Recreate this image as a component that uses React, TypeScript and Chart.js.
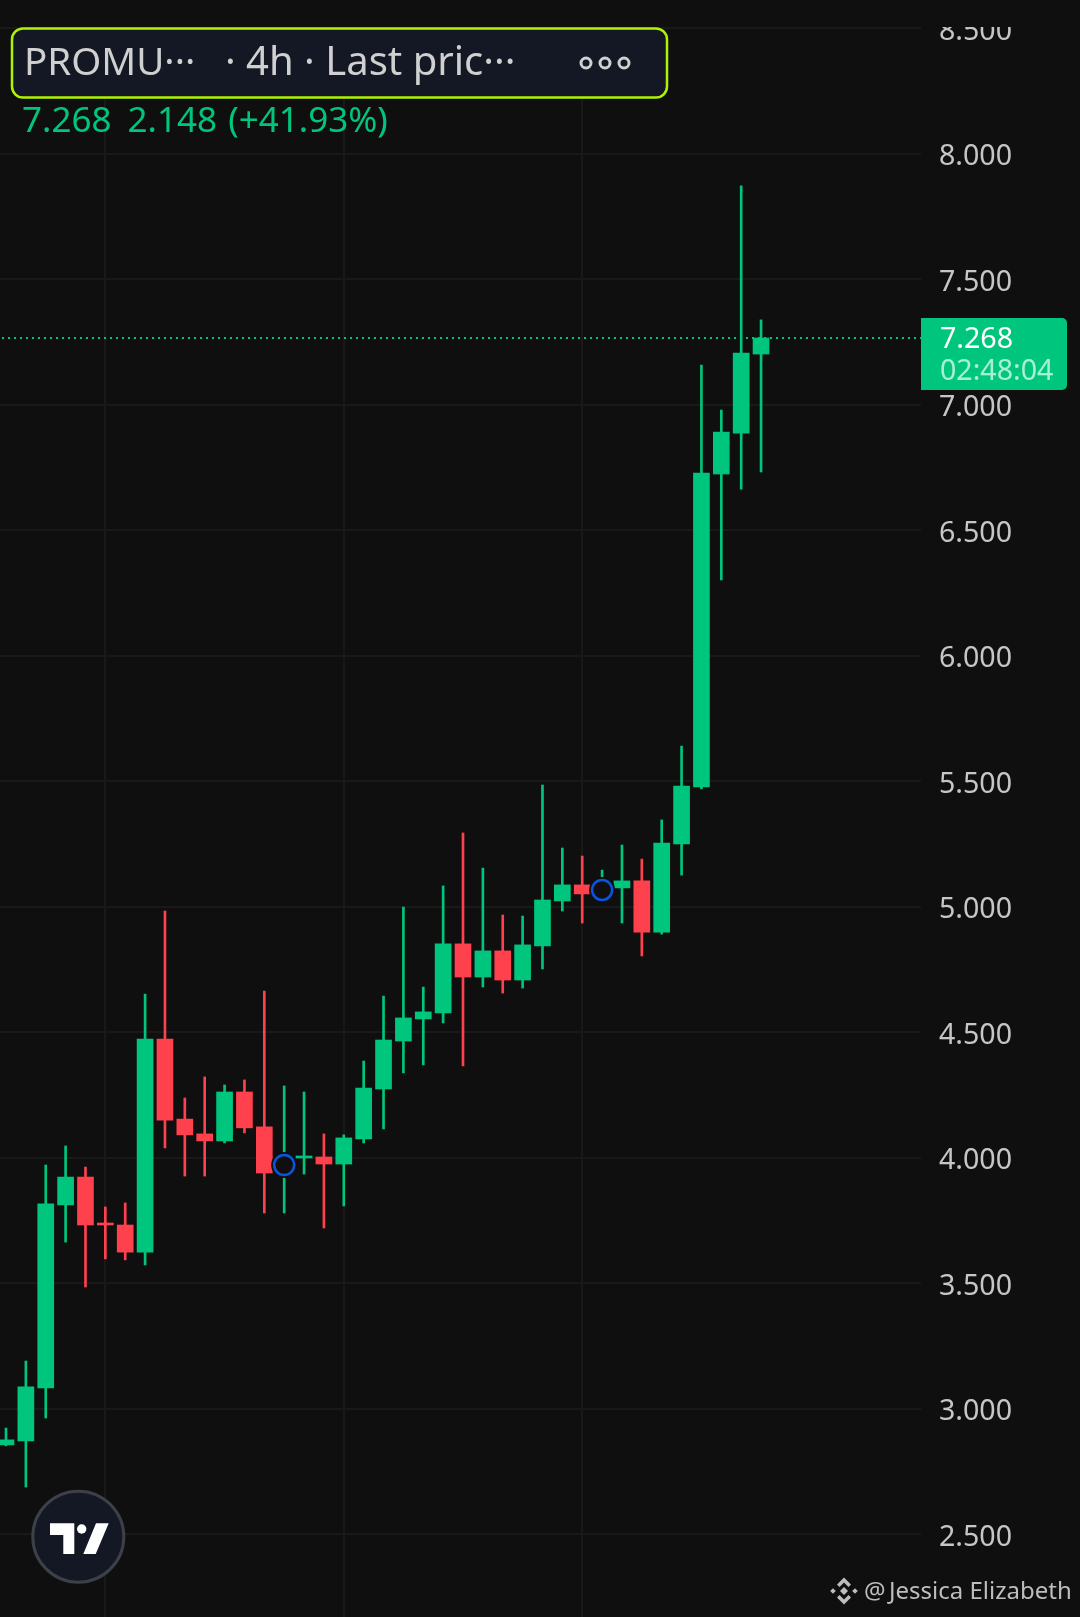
import React, { useEffect, useRef } from "react";
import { Chart, registerables } from "chart.js";

Chart.register(...registerables);

const opens = [2.857, 2.873, 3.084, 3.813, 3.924, 3.741, 3.733, 3.625, 4.474, 4.155, 4.096, 4.068, 4.263, 4.124, 3.965, 4.0, 4.004, 3.976, 4.076, 4.275, 4.466, 4.554, 4.578, 4.853, 4.721, 4.825, 4.709, 4.845, 5.024, 5.088, 5.06, 5.076, 5.104, 4.9, 5.251, 5.478, 6.725, 6.888, 7.203];
const closes = [2.877, 3.088, 3.817, 3.924, 3.733, 3.733, 3.625, 4.474, 4.151, 4.092, 4.068, 4.263, 4.12, 3.94, 3.98, 4.008, 3.976, 4.08, 4.279, 4.47, 4.558, 4.582, 4.853, 4.721, 4.825, 4.709, 4.849, 5.028, 5.088, 5.052, 5.072, 5.104, 4.9, 5.255, 5.482, 6.729, 6.892, 7.207, 7.267];
const highs = [2.924, 3.191, 3.972, 4.048, 3.964, 3.805, 3.821, 4.653, 4.984, 4.239, 4.323, 4.291, 4.311, 4.665, 4.287, 4.263, 4.096, 4.092, 4.386, 4.645, 5.0, 4.681, 5.084, 5.295, 5.155, 4.968, 4.964, 5.486, 5.235, 5.203, 5.147, 5.247, 5.191, 5.347, 5.641, 7.159, 6.98, 7.873, 7.339];
const lows = [2.853, 2.689, 2.964, 3.665, 3.486, 3.598, 3.594, 3.574, 4.04, 3.928, 3.928, 4.06, 4.1, 3.781, 3.781, 3.936, 3.721, 3.809, 4.06, 4.116, 4.339, 4.371, 4.538, 4.367, 4.681, 4.657, 4.677, 4.753, 4.984, 4.936, 5.048, 4.936, 4.805, 4.892, 5.127, 5.47, 6.303, 6.665, 6.733];
const verticalGridIndexes = [5, 17, 29];
const markerIndexes = [14, 30];
const markerPrices = [3.972, 5.068];
const lastPrice = 7.267;
const lastPriceLabel = "7.268";
const countdownLabel = "02:48:04";
const headerSymbol = "PROMU\u00B7\u00B7\u00B7";
const headerInfo = "\u00B7 4h \u00B7 Last pric\u00B7\u00B7\u00B7";
const headerClose = "7.268";
const headerChange = "2.148";
const headerPercent = "(+41.93%)";
const watermarkAt = "@";
const watermarkName = "Jessica Elizabeth";

const WIDTH = 1080;
const HEIGHT = 1617;
const BG = "#0F0F0F";
const GRID = "#191919";
const UP = "#00C67D";
const DOWN = "#FF414E";
const TEXT = "#C6C6C6";
const FONT = '"Noto Sans", sans-serif';

const overlay = {
  id: "overlay",
  beforeDraw(chart: any) {
    const items = chart.scales.y.getLabelItems(chart.chartArea);
    items.forEach((item: any) => {
      const [x, y] = item.options.translation;
      item.options.translation = [x, y + 3];
    });
  },
  beforeDatasetsDraw(chart: any) {
    const { ctx, chartArea } = chart;
    const y = chart.scales.y.getPixelForValue(lastPrice);
    ctx.save();
    ctx.strokeStyle = UP;
    ctx.lineWidth = 2;
    ctx.setLineDash([2, 4]);
    ctx.beginPath();
    ctx.moveTo(2, Math.round(y));
    ctx.lineTo(chartArea.right, Math.round(y));
    ctx.stroke();
    ctx.restore();
  },
  afterDraw(chart: any) {
    const { ctx, chartArea } = chart;
    const xs = chart.scales.x;
    const ys = chart.scales.y;
    ctx.save();

    // top clip band
    ctx.fillStyle = BG;
    ctx.fillRect(0, 0, WIDTH, 27);

    // markers
    markerIndexes.forEach((idx, i) => {
      const cx = xs.getPixelForValue(idx);
      const cy = ys.getPixelForValue(markerPrices[i]);
      ctx.fillStyle = BG;
      ctx.beginPath();
      ctx.arc(cx, cy, 13, 0, Math.PI * 2);
      ctx.fill();
      ctx.strokeStyle = "#0A55DD";
      ctx.lineWidth = 2.5;
      ctx.beginPath();
      ctx.arc(cx, cy, 10, 0, Math.PI * 2);
      ctx.stroke();
    });

    // header
    ctx.fillStyle = "#131824";
    ctx.strokeStyle = "#AEF400";
    ctx.lineWidth = 2.5;
    ctx.beginPath();
    ctx.roundRect(12, 28.5, 655, 69, 11);
    ctx.fill();
    ctx.stroke();
    ctx.fillStyle = "#D0D0D0";
    ctx.textAlign = "left";
    ctx.textBaseline = "alphabetic";
    ctx.font = `38.5px ${FONT}`;
    ctx.fillText(headerSymbol, 24, 75);
    ctx.font = `40px ${FONT}`;
    ctx.fillText(headerInfo, 225, 75);
    ctx.strokeStyle = "#D0D0D0";
    ctx.lineWidth = 3;
    [586, 605, 624].forEach((cx) => {
      ctx.beginPath();
      ctx.arc(cx, 63, 5, 0, Math.PI * 2);
      ctx.stroke();
    });
    ctx.fillStyle = UP;
    ctx.font = `35px ${FONT}`;
    ctx.fillText(headerClose, 22, 132);
    ctx.fillText(headerChange, 127.6, 132);
    ctx.fillText(headerPercent, 228.3, 132);

    // price tag
    const py = ys.getPixelForValue(lastPrice);
    ctx.fillStyle = UP;
    ctx.beginPath();
    ctx.roundRect(chartArea.right, py - 20, 146, 72, [0, 5, 5, 0]);
    ctx.fill();
    ctx.font = `28.6px ${FONT}`;
    ctx.fillStyle = "#FFFFFF";
    ctx.fillText(lastPriceLabel, 940, py + 10.5);
    ctx.fillStyle = "#A9EFD4";
    ctx.fillText(countdownLabel, 940, py + 42.5);

    // logo
    ctx.fillStyle = "#131824";
    ctx.strokeStyle = "#3C4048";
    ctx.lineWidth = 3;
    ctx.beginPath();
    ctx.arc(78.3, 1536.7, 45.5, 0, Math.PI * 2);
    ctx.fill();
    ctx.stroke();
    ctx.fillStyle = "#FFFFFF";
    const poly = (pts: number[][]) => {
      ctx.beginPath();
      pts.forEach(([x, y], i) => (i ? ctx.lineTo(x, y) : ctx.moveTo(x, y)));
      ctx.closePath();
      ctx.fill();
    };
    poly([[50, 1523.3], [74.3, 1523.3], [74.3, 1554], [63.3, 1554], [63.3, 1535], [50, 1535]]);
    poly([[96, 1523.3], [108.7, 1523.3], [95.7, 1554], [83.3, 1554]]);
    ctx.beginPath();
    ctx.arc(81.7, 1529, 4.7, 0, Math.PI * 2);
    ctx.fill();

    // watermark
    ctx.fillStyle = "#BDBDBD";
    const bx = 844;
    const by = 1591;
    poly([[bx, by - 13.5], [bx + 7, by - 6.5], [bx + 4.5, by - 4], [bx, by - 8.5], [bx - 4.5, by - 4], [bx - 7, by - 6.5]]);
    poly([[bx, by + 13.5], [bx + 7, by + 6.5], [bx + 4.5, by + 4], [bx, by + 8.5], [bx - 4.5, by + 4], [bx - 7, by + 6.5]]);
    poly([[bx, by - 4], [bx + 4, by], [bx, by + 4], [bx - 4, by]]);
    poly([[bx - 11, by - 2.8], [bx - 8.2, by], [bx - 11, by + 2.8], [bx - 13.8, by]]);
    poly([[bx + 11, by - 2.8], [bx + 13.8, by], [bx + 11, by + 2.8], [bx + 8.2, by]]);
    ctx.font = `24px ${FONT}`;
    ctx.fillText(watermarkAt, 864, 1599);
    ctx.fillText(watermarkName, 889, 1599);
    ctx.restore();
  },
};

export default function App() {
  const ref = useRef<HTMLCanvasElement>(null);
  useEffect(() => {
    const isUp = closes.map((c, i) => c >= opens[i]);
    const colors = isUp.map((u) => (u ? UP : DOWN));
    const chart = new Chart(ref.current as HTMLCanvasElement, {
      type: "bar",
      data: {
        datasets: [
          {
            label: "body",
            data: opens.map((o, i) => ({ x: i, y: [o, closes[i]] })),
            backgroundColor: colors,
            barThickness: 16,
            grouped: false,
          },
          {
            label: "wick",
            data: lows.map((l, i) => ({ x: i, y: [l, highs[i]] })),
            backgroundColor: colors,
            barThickness: 2,
            grouped: false,
          },
        ] as any,
      },
      options: {
        animation: false,
        responsive: false,
        devicePixelRatio: 1,
        layout: { padding: 0 },
        plugins: { legend: { display: false }, tooltip: { enabled: false } },
        scales: {
          x: {
            type: "linear",
            offset: false,
            min: -0.302,
            max: 46.05,
            border: { display: false },
            grid: { color: GRID, lineWidth: 2, drawTicks: false, offset: false },
            ticks: { display: false },
            afterBuildTicks: (s: any) => {
              s.ticks = verticalGridIndexes.map((value) => ({ value }));
            },
          },
          y: {
            position: "right",
            min: 2.1713,
            max: 8.6135,
            border: { display: false },
            grid: { color: GRID, lineWidth: 2, drawTicks: false },
            afterFit: (s: any) => {
              s.width = 159;
              s.paddingTop = 0;
              s.paddingBottom = 0;
            },
            ticks: {
              stepSize: 0.5,
              includeBounds: false,
              padding: 18,
              color: TEXT,
              font: { family: "Noto Sans", size: 28.6 },
              callback: (v: any) => Number(v).toFixed(3),
            },
          },
        },
      } as any,
      plugins: [overlay],
    });
    return () => chart.destroy();
  }, []);
  return (
    <div style={{ position: "fixed", left: 0, top: 0, width: WIDTH, height: HEIGHT, background: BG }}>
      <canvas ref={ref} width={WIDTH} height={HEIGHT} style={{ display: "block" }} />
    </div>
  );
}
